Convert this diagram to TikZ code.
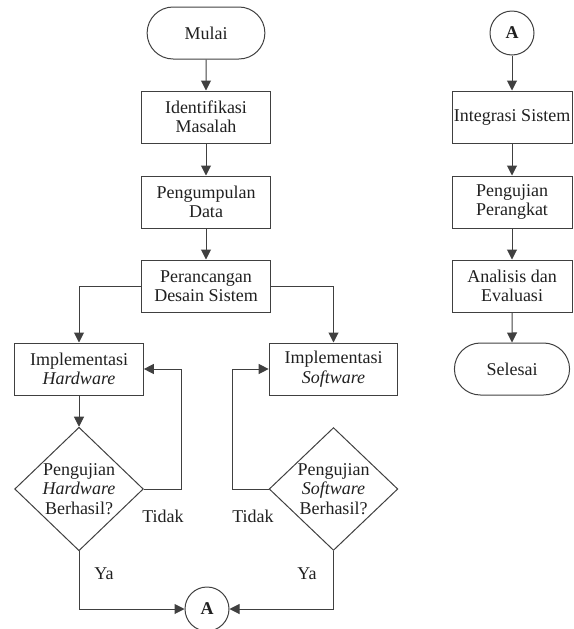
\documentclass[tikz,border=0pt]{standalone}
\usepackage{fontspec}
\setmainfont{Liberation Serif}
\usetikzlibrary{shapes.geometric,shapes.misc,arrows.meta}
\definecolor{garis}{HTML}{404040}
\definecolor{teks}{HTML}{202020}
\begin{document}
\begin{tikzpicture}[x=0.75pt, y=-0.75pt,
    every node/.style = {font=\fontsize{13.5}{14.5}\selectfont, text=teks},
    proses/.style = {rectangle, draw=garis, line width=0.75pt, minimum width=96.5pt, minimum height=39pt, align=center, inner sep=2pt},
    prosesb/.style = {proses, minimum width=90pt, inner sep=1pt},
    terminal/.style = {rounded rectangle, draw=garis, line width=0.75pt, minimum width=95pt, minimum height=39pt},
    keputusan/.style = {diamond, draw=garis, line width=0.75pt, minimum width=96.5pt, minimum height=90pt, align=center, inner sep=0pt},
    konektor/.style = {circle, draw=garis, line width=0.75pt, minimum size=33pt, inner sep=0pt, font=\fontsize{13.5}{14.5}\selectfont\bfseries},
    panah/.style = {draw=garis, line width=0.75pt, -{Triangle[length=7.5pt, width=7.5pt]}}]
    \useasboundingbox (0, 0) rectangle (574, 629);

    % left part
    \node[terminal] (mulai) at (206, 33) {Mulai};
    \node[proses] (identifikasi) at (206, 117) {Identifikasi\\Masalah};
    \node[proses] (pengumpulan) at (206, 202) {Pengumpulan\\Data};
    \node[proses] (perancangan) at (206, 286) {Perancangan\\Desain Sistem};
    \node[proses] (implhw) at ( 79, 369) {Implementasi\\\textit{Hardware}};
    \node[proses] (implsw) at (333.5, 369) {Implementasi\\\textit{Software}};
    \node[keputusan] (ujihw) at ( 79, 489) {Pengujian\\\textit{Hardware}\\Berhasil?};
    \node[keputusan] (ujisw) at (333.5, 489) {Pengujian\\\textit{Software}\\Berhasil?};
    \node[konektor] (konA) at (207, 609) {A};

    % labels
    \node (tidakhw) at (163, 516) {Tidak};
    \node (tidaksw) at (253, 516) {Tidak};
    \node (yahw) at (104, 574) {Ya};
    \node (yasw) at (307, 574) {Ya};

    % right part
    \node[konektor] (konB) at (512, 33) {A};
    \node[prosesb] (integrasi) at (512, 117) {Integrasi Sistem};
    \node[prosesb] (pengujian) at (512, 202) {Pengujian\\Perangkat};
    \node[prosesb] (analisis) at (512, 286) {Analisis dan\\Evaluasi};
    \node[terminal, minimum width=93pt] (selesai) at (512, 369) {Selesai};

    % turning points
    \coordinate (belokhw) at (181, 489);
    \coordinate (beloksw) at (232, 489);

    % arrows
    \draw[panah] (mulai) -- (identifikasi);
    \draw[panah] (identifikasi) -- (pengumpulan);
    \draw[panah] (pengumpulan) -- (perancangan);
    \draw[panah] (perancangan.west) -| (implhw);
    \draw[panah] (perancangan.east) -| (implsw);
    \draw[panah] (implhw) -- (ujihw);
    \draw[panah] (ujihw.east) -- (belokhw) |- (implhw.east);
    \draw[panah] (ujisw.west) -- (beloksw) |- (implsw.west);
    \draw[panah] (ujihw.south) |- (konA);
    \draw[panah] (ujisw.south) |- (konA);

    \draw[panah] (konB) -- (integrasi);
    \draw[panah] (integrasi) -- (pengujian);
    \draw[panah] (pengujian) -- (analisis);
    \draw[panah] (analisis) -- (selesai);
\end{tikzpicture}
\end{document}
